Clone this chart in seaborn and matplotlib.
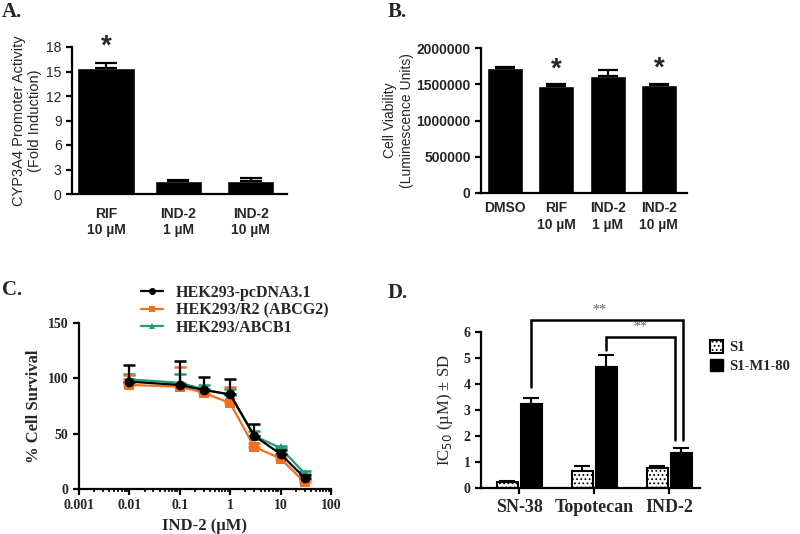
import numpy as np
import pandas as pd
import matplotlib
matplotlib.use("Agg")
import matplotlib.pyplot as plt
import seaborn as sns
from matplotlib.patches import Patch
from matplotlib.lines import Line2D

sns.set_theme(style="ticks")
plt.rcParams['font.family'] = ['Liberation Sans', 'DejaVu Sans']
plt.rcParams['hatch.color'] = '#888888'
plt.rcParams['hatch.linewidth'] = 0.8

# ---- Panel A data ----
a_labels = ["RIF\n10 µM", "IND-2\n1 µM", "IND-2\n10 µM"]
a_values = [15.4, 1.6, 1.6]
a_err = [0.7, 0.15, 0.4]

# ---- Panel B data ----
b_labels = ["DMSO", "RIF\n10 µM", "IND-2\n1 µM", "IND-2\n10 µM"]
b_values = [1720000, 1480000, 1610000, 1485000]
b_err = [15000, 20000, 80000, 25000]

# ---- Panel C data ----
c_conc = [0.01, 0.1, 0.3, 1, 3, 10, 30]
c_pcdna = [97, 94, 89.5, 85.5, 48, 31.6, 10]
c_pcdna_err = [15, 22, 11.5, 13.5, 11, 4, 2.5]
c_r2 = [94, 92.5, 87, 77.5, 38, 27.5, 6]
c_r2_err = [9, 18, 2, 15, 4, 2.5, 2]
c_abcb1 = [99, 96, 90, 85, 48, 37, 14]
c_abcb1_err = [5, 8, 4, 5, 4, 2, 2]
c_names = ["HEK293-pcDNA3.1", "HEK293/R2 (ABCG2)", "HEK293/ABCB1"]

# ---- Panel D data ----
d_drugs = ["SN-38", "Topotecan", "IND-2"]
d_s1 = [0.23, 0.67, 0.78]
d_s1_err = [0.05, 0.19, 0.08]
d_m1 = [3.22, 4.65, 1.33]
d_m1_err = [0.23, 0.45, 0.19]
d_groups = ["S1", "S1-M1-80"]

W, H = 800, 534
fig = plt.figure(figsize=(8, 5.34), dpi=100)

def add_ax(l, t, r, b):
    return fig.add_axes([l / W, 1 - b / H, (r - l) / W, (b - t) / H])

def style_axes(ax, lw=1.6):
    sns.despine(ax=ax)
    for s in ["left", "bottom"]:
        ax.spines[s].set_linewidth(lw)
        ax.spines[s].set_color("black")
    ax.tick_params(width=lw, length=4, color="black", direction="out")

# ================= Panel A =================
axA = add_ax(72, 47, 287, 194)
dfA = pd.DataFrame({"cond": a_labels, "val": a_values})
sns.barplot(data=dfA, x="cond", y="val", color="black", width=0.65,
            errorbar=None, ax=axA, saturation=1)
pA = axA.patches
cx = pA[0].get_x() + pA[0].get_width() / 2
pA[0].set_width(0.8)
pA[0].set_x(cx - 0.4)
xsA = [p.get_x() + p.get_width() / 2 for p in pA]
axA.errorbar(xsA, a_values, yerr=[np.zeros(3), a_err], fmt="none",
             ecolor="black", elinewidth=1.6, capsize=8, capthick=1.6)
axA.set_ylim(0, 18)
axA.set_yticks([0, 3, 6, 9, 12, 15, 18])
axA.set_xlim(-0.47, 2.5)
style_axes(axA)
axA.set_xlabel("")
axA.set_ylabel("CYP3A4 Promoter Activity\n(Fold Induction)", fontsize=10.5, labelpad=3)
axA.tick_params(axis="y", labelsize=10)
axA.tick_params(axis="x", length=0, labelsize=10, pad=9)
for t in axA.get_xticklabels():
    t.set_fontweight("bold")
axA.text(xsA[0], a_values[0] + a_err[0] + 0.3, "*", ha="center", va="bottom",
         fontsize=20, fontweight="bold")

# ================= Panel B =================
axB = add_ax(481, 48, 687, 193)
dfB = pd.DataFrame({"cond": b_labels, "val": b_values})
sns.barplot(data=dfB, x="cond", y="val", color="black", width=0.7,
            errorbar=None, ax=axB, saturation=1)
xsB = [p.get_x() + p.get_width() / 2 for p in axB.patches]
axB.errorbar(xsB, b_values, yerr=[np.zeros(4), b_err], fmt="none",
             ecolor="black", elinewidth=1.6, capsize=7, capthick=1.6)
axB.set_ylim(0, 2000000)
axB.set_yticks([0, 500000, 1000000, 1500000, 2000000])
axB.set_yticklabels(["0", "500000", "1000000", "1500000", "2000000"])
axB.set_xlim(-0.47, 3.55)
style_axes(axB)
axB.set_xlabel("")
axB.set_ylabel("Cell Viability\n(Luminescence Units)", fontsize=10, labelpad=2)
axB.tick_params(axis="y", labelsize=10)
axB.tick_params(axis="x", length=0, labelsize=10, pad=6)
for t in axB.get_xticklabels() + axB.get_yticklabels():
    t.set_fontweight("bold")
for i in [1, 3]:
    axB.text(xsB[i], b_values[i] + b_err[i] + 20000, "*", ha="center", va="bottom",
             fontsize=20, fontweight="bold")

# ================= Panel C =================
serif = ['Liberation Serif', 'DejaVu Serif']
axC = add_ax(79, 323, 331, 489)
colors = ["black", "#F37021", "#1E9C78"]
markers = ["o", "s", "^"]
series = [(c_pcdna, c_pcdna_err), (c_r2, c_r2_err), (c_abcb1, c_abcb1_err)]
order = [2, 1, 0]
for i in order:
    vals, errs = series[i]
    axC.errorbar(c_conc, vals, yerr=[np.zeros(len(vals)), errs], fmt="none",
                 ecolor=colors[i], elinewidth=1.6, capsize=4, capthick=1.8,
                 zorder=2 + (2 - i))
for i in order:
    vals, errs = series[i]
    dfc = pd.DataFrame({"conc": c_conc, "surv": vals})
    sns.lineplot(data=dfc, x="conc", y="surv", color=colors[i], marker=markers[i],
                 markersize=7, markeredgewidth=0, linewidth=1.6, ax=axC,
                 zorder=3 + (2 - i))
axC.set_xscale("log")
axC.set_xlim(0.001, 100)
axC.set_ylim(0, 150)
axC.set_yticks([0, 50, 100, 150])
axC.set_xticks([0.001, 0.01, 0.1, 1, 10, 100])
axC.set_xticklabels(["0.001", "0.01", "0.1", "1", "10", "100"])
style_axes(axC)
axC.tick_params(which="minor", length=2.5, width=1.2, color="black")
axC.set_xlabel("IND-2 (µM)", fontsize=12, fontweight="bold", family=serif, labelpad=4)
axC.set_ylabel("% Cell Survival", fontsize=12, fontweight="bold", family=serif, labelpad=4)
for t in axC.get_xticklabels() + axC.get_yticklabels():
    t.set_family(serif)
    t.set_fontweight("bold")
    t.set_fontsize(10)
handlesC = [Line2D([0], [0], color=colors[i], marker=markers[i], markersize=5,
                   markeredgewidth=0, linewidth=1.6) for i in range(3)]
axC.legend(handlesC, c_names, loc="upper left", bbox_to_anchor=(0.22, 1.27),
           frameon=False, handlelength=1.4, handletextpad=0.8, labelspacing=0.1,
           prop={"family": serif, "weight": "bold", "size": 11.5}, borderaxespad=0)

# ================= Panel D =================
axD = add_ax(481, 332, 700, 488)
dfD = pd.DataFrame({
    "drug": d_drugs * 2,
    "grp": [d_groups[0]] * 3 + [d_groups[1]] * 3,
    "val": d_s1 + d_m1,
})
sns.barplot(data=dfD, x="drug", y="val", hue="grp", order=d_drugs, hue_order=d_groups,
            palette=["white", "black"], width=0.65, gap=0.14, errorbar=None,
            ax=axD, saturation=1, edgecolor="black", linewidth=1.5, legend=False)
barsD = list(axD.patches)
s1_bars = barsD[:3]
m1_bars = barsD[3:6]
for p in s1_bars:
    p.set_hatch("....")
xs1 = [p.get_x() + p.get_width() / 2 for p in s1_bars]
xm1 = [p.get_x() + p.get_width() / 2 for p in m1_bars]
axD.errorbar(xs1, d_s1, yerr=[np.zeros(3), d_s1_err], fmt="none", ecolor="black",
             elinewidth=1.5, capsize=6, capthick=1.5)
axD.errorbar(xm1, d_m1, yerr=[np.zeros(3), d_m1_err], fmt="none", ecolor="black",
             elinewidth=1.5, capsize=6, capthick=1.5)
axD.set_ylim(0, 6)
axD.set_yticks([0, 1, 2, 3, 4, 5, 6])
axD.set_xlim(-0.51, 2.41)
style_axes(axD)
axD.set_xlabel("")
axD.set_ylabel("IC$_{50}$ (µM) ± SD", fontsize=12, family=serif, labelpad=6)
axD.tick_params(axis="x", labelsize=13, pad=4)
axD.tick_params(axis="y", labelsize=10)
for t in axD.get_xticklabels() + axD.get_yticklabels():
    t.set_family(serif)
    t.set_fontweight("bold")
lw_b = 1.8
axD.plot([xm1[0], xm1[0], xm1[2] + 0.02, xm1[2] + 0.02], [3.9, 6.45, 6.45, 1.85],
         color="black", lw=lw_b, clip_on=False, solid_joinstyle="miter")
axD.plot([xm1[1], xm1[1], xm1[2] - 0.09, xm1[2] - 0.09], [5.3, 5.8, 5.8, 1.85],
         color="black", lw=lw_b, clip_on=False, solid_joinstyle="miter")
axD.text((xm1[0] + xm1[2]) / 2 - 0.1, 6.6, "**", ha="center", va="bottom",
         fontsize=10, color="#666666", family=serif)
axD.text((xm1[1] + xm1[2]) / 2 - 0.05, 5.95, "**", ha="center", va="bottom",
         fontsize=10, color="#666666", family=serif)
handlesD = [Patch(facecolor="white", edgecolor="black", hatch="....", linewidth=1.5),
            Patch(facecolor="black", edgecolor="black")]
axD.legend(handlesD, d_groups, loc="upper left", bbox_to_anchor=(1.02, 0.985),
           frameon=False, handlelength=0.85, handleheight=0.95, handletextpad=0.45,
           labelspacing=0.3, borderaxespad=0,
           prop={"family": serif, "weight": "bold", "size": 10.5})

# panel letters
fig.text(2 / W, 1 - 2 / H, "A.", ha="left", va="top", fontsize=15, fontweight="bold", family=serif)
fig.text(388 / W, 1 - 2 / H, "B.", ha="left", va="top", fontsize=15, fontweight="bold", family=serif)
fig.text(2 / W, 1 - 280 / H, "C.", ha="left", va="top", fontsize=15, fontweight="bold", family=serif)
fig.text(388 / W, 1 - 283 / H, "D.", ha="left", va="top", fontsize=15, fontweight="bold", family=serif)

fig.savefig("out.png", dpi=100, facecolor="white")
